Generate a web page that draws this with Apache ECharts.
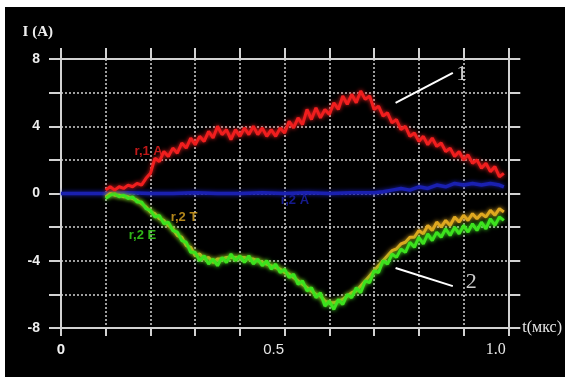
<!DOCTYPE html>
<html>
<head>
<meta charset="utf-8">
<script src="https://cdn.jsdelivr.net/npm/echarts@6/dist/echarts.min.js"></script>
<style>
  html, body { margin: 0; padding: 0; background: #ffffff; }
  #chart { position: absolute; left: 5px; top: 7px; width: 560px; height: 370px; }
</style>
</head>
<body>
<div id="chart"></div>
<script>
// ---- data ----
const sampleStart = 0.10, sampleStep = 0.01;   // time grid of traces, µs
const red = [0.2,0.4,0.2,0.4,0.3,0.5,0.4,0.6,0.5,0.9,
  1.2,2.1,1.9,2.5,2.2,2.7,2.4,3.0,2.7,3.3,
  2.9,3.4,3.1,3.7,3.3,4.0,3.5,3.8,3.2,3.8,
  3.4,3.9,3.5,4.0,3.5,3.9,3.4,3.8,3.4,3.9,
  3.6,4.3,3.9,4.5,4.1,5.0,4.4,5.1,4.5,5.0,
  4.7,5.4,5.0,5.8,5.3,5.9,5.4,6.1,5.6,5.8,
  5.0,5.2,4.6,4.8,4.2,4.4,3.8,4.0,3.4,3.6,
  3.1,3.4,2.9,3.3,2.8,3.0,2.5,2.7,2.2,2.5,
  2.0,2.3,1.8,2.0,1.5,1.8,1.3,1.6,1.0,1.2];
const green = [-0.3,-0.1,0.0,-0.2,-0.1,-0.3,-0.2,-0.5,-0.5,-0.9,
  -1.0,-1.4,-1.3,-1.8,-1.7,-2.2,-2.3,-2.8,-2.9,-3.5,
  -3.5,-4.0,-3.7,-4.2,-3.9,-4.3,-3.8,-4.1,-3.6,-4.0,
  -3.7,-4.1,-3.7,-4.2,-3.9,-4.3,-4.0,-4.5,-4.2,-4.7,
  -4.5,-5.0,-4.8,-5.4,-5.2,-5.8,-5.6,-6.2,-5.9,-6.7,
  -6.4,-6.9,-6.3,-6.6,-6.0,-6.2,-5.6,-5.9,-5.2,-5.3,
  -4.6,-4.7,-4.0,-4.2,-3.6,-3.8,-3.3,-3.5,-2.9,-3.2,
  -2.6,-3.0,-2.4,-2.8,-2.3,-2.6,-2.1,-2.5,-2.0,-2.4,
  -1.9,-2.3,-1.8,-2.2,-1.7,-2.1,-1.5,-1.9,-1.4,-1.6];
const yellow = [-0.2,0.0,-0.1,-0.1,-0.2,-0.2,-0.3,-0.4,-0.6,-0.8,
  -1.1,-1.2,-1.5,-1.6,-1.9,-2.1,-2.5,-2.6,-3.1,-3.2,
  -3.7,-3.6,-3.9,-3.8,-4.1,-3.9,-3.9,-3.8,-3.8,-3.8,
  -3.8,-3.8,-3.9,-3.9,-4.0,-4.1,-4.2,-4.3,-4.4,-4.5,
  -4.7,-4.8,-5.0,-5.2,-5.4,-5.6,-5.8,-6.0,-6.1,-6.4,
  -6.5,-6.5,-6.4,-6.3,-6.1,-5.9,-5.8,-5.5,-5.2,-4.9,
  -4.6,-4.3,-4.0,-3.7,-3.4,-3.3,-3.0,-2.9,-2.6,-2.6,
  -2.2,-2.4,-1.9,-2.2,-1.7,-2.0,-1.6,-1.9,-1.4,-1.7,
  -1.3,-1.6,-1.2,-1.5,-1.2,-1.4,-1.0,-1.3,-0.9,-1.1];
const blueT = [0.00,0.05,0.10,0.15,0.20,0.25,0.30,0.35,0.40,0.45,0.50,0.55,0.60,0.65,0.70,
  0.72,0.74,0.76,0.78,0.80,0.82,0.84,0.86,0.88,0.90,0.92,0.94,0.96,0.98,0.99];
const blueV = [0.0,0.0,0.0,0.05,0.0,0.0,0.05,0.0,0.0,0.05,0.0,0.05,0.0,0.05,0.05,
  0.1,0.2,0.3,0.2,0.4,0.3,0.5,0.4,0.6,0.5,0.6,0.5,0.6,0.5,0.4];

const seriesNames = ['r,1 A', 'r,2 T', 'r,2 E', 'r,2 A'];
const seriesColors = ['#f01e1e', '#e0a820', '#3ce21e', '#1a20b0'];
// in-plot trace labels [t, I]
const traceLabelPos = [[0.196, 2.5], [0.275, -1.45], [0.182, -2.47], [0.523, -0.4]];
// callout numbers and their leader lines
const calloutText = ['1', '2'];
const calloutPos = [[0.896, 7.1], [0.917, -5.27]];
const calloutLines = [[[0.748, 5.39], [0.876, 7.17]], [[0.748, -4.43], [0.876, -5.51]]];

const yMin = -8, yMax = 8, yStep = 2, yLabelEvery = 4;
const xMin = 0, xMax = 1, xStep = 0.1;
const xLabelValues = [0, 0.5, 1];
const xLabelTexts = ['0', '0.5', '1.0'];
const xAxisTitle = 't(мкс)';
const yAxisTitle = 'I (A)';

// ---- build ----
const toPairs = arr => arr.map((v, i) => [+(sampleStart + i * sampleStep).toFixed(2), v]);
const bluePairs = blueT.map((t, i) => [t, blueV[i]]);

const gridCol = '#d2d2d2';
const chart = echarts.init(document.getElementById('chart'));
const xLabelStyles = ['a', 'b', 'c'];
const trace = (i, w) => ({ color: seriesColors[i], width: w, shadowBlur: 4, shadowColor: seriesColors[i] });

chart.setOption({
  backgroundColor: '#000000',
  animation: false,
  grid: { left: 56, top: 52, right: 55, bottom: 49 },
  xAxis: [
    {
      type: 'value', min: xMin, max: xMax, interval: xStep, position: 'bottom',
      axisLine: { show: true, onZero: false, lineStyle: { color: gridCol, width: 2 } },
      axisTick: { show: true, inside: false, length: 8, lineStyle: { color: gridCol, width: 2 } },
      splitLine: { show: true, lineStyle: { color: gridCol, width: 1.5, type: [2, 2] } },
      axisLabel: {
        margin: 14,
        formatter: v => {
          for (let i = 0; i < xLabelValues.length; i++) {
            if (Math.abs(v - xLabelValues[i]) < 1e-6) return '{' + xLabelStyles[i] + '|' + xLabelTexts[i] + '}';
          }
          return '';
        },
        rich: {
          a: { color: '#f2f2f2', fontFamily: 'Liberation Sans', fontWeight: 'bold', fontSize: 15 },
          b: { color: '#e6e6e6', fontFamily: 'Liberation Sans', fontSize: 15, padding: [0, 22, 0, 0] },
          c: { color: '#e6e6e6', fontFamily: 'Liberation Serif', fontSize: 16, padding: [0, 25, 0, 0] }
        }
      },
      name: xAxisTitle, nameLocation: 'end', nameGap: 14,
      nameTextStyle: { color: '#e6e6e6', fontFamily: 'Liberation Serif', fontSize: 16, align: 'left', verticalAlign: 'middle', padding: [44, 0, 0, 0] }
    },
    {
      type: 'value', min: xMin, max: xMax, interval: xStep, position: 'top',
      axisLine: { show: true, onZero: false, lineStyle: { color: gridCol, width: 2 } },
      axisTick: { show: true, inside: false, length: 11, lineStyle: { color: gridCol, width: 2 } },
      splitLine: { show: false }, axisLabel: { show: false }
    }
  ],
  yAxis: [
    {
      type: 'value', min: yMin, max: yMax, interval: yStep, position: 'left',
      axisLine: { show: true, onZero: false, lineStyle: { color: gridCol, width: 2 } },
      axisTick: { show: true, inside: false, length: 12, lineStyle: { color: gridCol, width: 2 } },
      splitLine: { show: true, lineStyle: { color: gridCol, width: 1.5, type: [2, 2] } },
      axisLabel: {
        margin: 21, color: '#eeeeee', fontFamily: 'Liberation Sans', fontWeight: 'bold', fontSize: 14,
        formatter: v => (Math.abs(v % yLabelEvery) < 1e-6 ? String(v) : '')
      },
      name: yAxisTitle, nameLocation: 'end', nameGap: 27,
      nameTextStyle: { color: '#eeeeee', fontFamily: 'Liberation Serif', fontWeight: 'bold', fontSize: 15, align: 'right', verticalAlign: 'middle', padding: [0, 8, 0, 0] }
    },
    {
      type: 'value', min: yMin, max: yMax, interval: yStep, position: 'right',
      axisLine: { show: true, onZero: false, lineStyle: { color: gridCol, width: 2 } },
      axisTick: { show: true, inside: false, length: 12, lineStyle: { color: gridCol, width: 2 } },
      splitLine: { show: false }, axisLabel: { show: false }
    }
  ],
  series: [
    { name: seriesNames[3], type: 'line', data: bluePairs, showSymbol: false, z: 3,
      lineStyle: trace(3, 3.5) },
    { name: seriesNames[1], type: 'line', data: toPairs(yellow), showSymbol: false, z: 4,
      lineStyle: trace(1, 3) },
    { name: seriesNames[2], type: 'line', data: toPairs(green), showSymbol: false, z: 5,
      lineStyle: trace(2, 3) },
    { name: seriesNames[0], type: 'line', data: toPairs(red), showSymbol: false, z: 6,
      lineStyle: trace(0, 3) },
    { type: 'scatter', symbolSize: 0, z: 7, silent: true,
      data: traceLabelPos.map((p, i) => ({
        value: p,
        label: { show: true, position: 'inside', formatter: seriesNames[i], color: seriesColors[i],
          fontFamily: 'Liberation Sans', fontWeight: 'bold', fontSize: 13 }
      }))
    },
    { type: 'scatter', symbolSize: 0, z: 8, silent: true,
      data: calloutPos.map((p, i) => ({
        value: p,
        label: { show: true, position: 'inside', formatter: calloutText[i], color: '#ffffff',
          fontFamily: 'Liberation Serif', fontSize: 22 }
      })),
      markLine: {
        silent: true, symbol: 'none', animation: false,
        label: { show: false },
        lineStyle: { color: '#ffffff', width: 2, type: 'solid' },
        data: calloutLines.map(l => [{ coord: l[0] }, { coord: l[1] }])
      }
    }
  ]
});
</script>
</body>
</html>
